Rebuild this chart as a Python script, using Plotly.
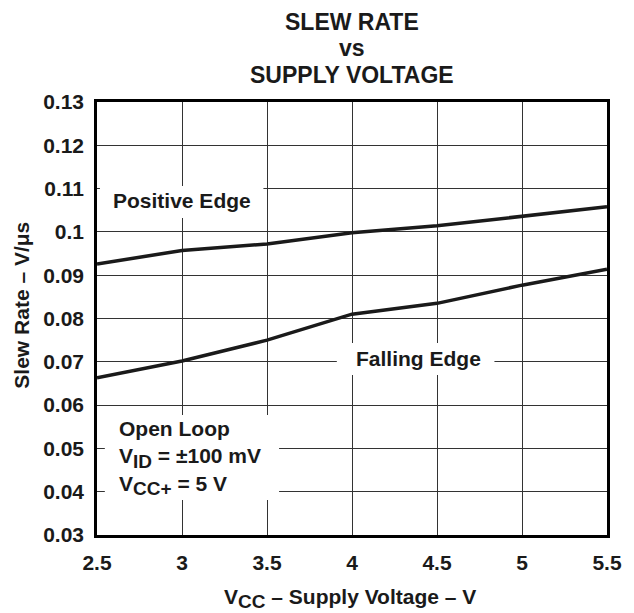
import plotly.graph_objects as go

# ---- data ----
supply_voltage = [2.5, 3.0, 3.5, 4.0, 4.5, 5.0, 5.5]
positive_edge = [0.0926, 0.0957, 0.0972, 0.0998, 0.1014, 0.1037, 0.1058]
falling_edge = [0.0663, 0.0702, 0.0750, 0.0810, 0.0835, 0.0877, 0.0914]

x_tick_vals = [2.5, 3.0, 3.5, 4.0, 4.5, 5.0, 5.5]
x_tick_text = ["2.5", "3", "3.5", "4", "4.5", "5", "5.5"]
y_tick_vals = [0.03, 0.04, 0.05, 0.06, 0.07, 0.08, 0.09, 0.10, 0.11, 0.12, 0.13]
y_tick_text = ["0.03", "0.04", "0.05", "0.06", "0.07", "0.08", "0.09", "0.1", "0.11", "0.12", "0.13"]

FONT = "Liberation Sans, Arial, sans-serif"
INK = "#1a1a1a"

W, H = 634, 613
L, R, T, B = 97, 618, 102, 535


def px(xp):
    return (xp - L) / (R - L)


def py(yp):
    return (B - yp) / (B - T)


def sub(s, size=19):
    return f"<sub><span style='font-size:{size}px'>{s}</span></sub>"


fig = go.Figure()
for name, vals in [("Positive Edge", positive_edge), ("Falling Edge", falling_edge)]:
    fig.add_trace(go.Scatter(x=supply_voltage, y=vals, mode="lines", name=name,
                             line=dict(color=INK, width=3.5), showlegend=False,
                             hoverinfo="skip"))

# white boxes that interrupt the grid behind the labels (window pixels)
boxes = [(100, 267, 186, 218), (342, 503, 343, 375), (105, 283, 415, 500)]
for x0, x1, y0, y1 in boxes:
    fig.add_shape(type="rect", xref="paper", yref="paper",
                  x0=px(x0), x1=px(x1), y0=py(y1), y1=py(y0),
                  fillcolor="white", line=dict(width=0), layer="above")

ann_font = dict(family=FONT, size=21, color=INK)
title_font = dict(family=FONT, size=23, color=INK)
annotations = [
    dict(text="<b>Positive Edge</b>", x=px(184), y=py(200), xanchor="center", yanchor="middle"),
    dict(text="<b>Falling Edge</b>", x=px(425.5), y=py(358), xanchor="center", yanchor="middle"),
    dict(text=f"<b>Open Loop</b><br><b>V{sub('ID')} = ±100 mV</b><br><b>V{sub('CC+')} = 5 V</b>",
         x=px(117), y=py(458), xanchor="left", yanchor="middle", align="left"),
    # title lines
    dict(text="<b>SLEW RATE</b>", x=px(358), y=py(22), xanchor="center", yanchor="middle",
         font=title_font),
    dict(text="<b>vs</b>", x=px(358), y=py(48.5), xanchor="center", yanchor="middle",
         font=title_font),
    dict(text="<b>SUPPLY VOLTAGE</b>", x=px(358), y=py(75), xanchor="center", yanchor="middle",
         font=title_font),
    # axis titles
    dict(text=f"<b>V{sub('CC')} – Supply Voltage – V</b>", x=px(355), y=py(598),
         xanchor="center", yanchor="middle"),
    dict(text="<b>Slew Rate – V/μs</b>", x=px(19), y=py(305), textangle=-90,
         xanchor="center", yanchor="middle"),
]
for a in annotations:
    a.setdefault("font", ann_font)
    fig.add_annotation(xref="paper", yref="paper", showarrow=False, **a)

tick_font = dict(family=FONT, size=21, color=INK, weight="bold")
axis_common = dict(showgrid=True, gridcolor="#333333", gridwidth=1.2, zeroline=False,
                   showline=True, mirror=True, linecolor="black", linewidth=2.5,
                   ticks="", tickfont=tick_font)

fig.update_xaxes(range=[2.5, 5.5], tickvals=x_tick_vals, ticktext=x_tick_text,
                 ticklabelstandoff=7, **axis_common)
fig.update_yaxes(range=[0.03, 0.13], tickvals=y_tick_vals, ticktext=y_tick_text,
                 ticklabelstandoff=6, **axis_common)

fig.update_layout(width=W, height=H, autosize=False,
                  margin=dict(l=L, r=W - R, t=T, b=H - B, pad=0),
                  paper_bgcolor="white", plot_bgcolor="white",
                  font=dict(family=FONT, color=INK))

fig.write_html("out.html", config={"displayModeBar": False},
               post_script="document.body.style.margin='0';"
                           "document.body.style.overflow='hidden';")
